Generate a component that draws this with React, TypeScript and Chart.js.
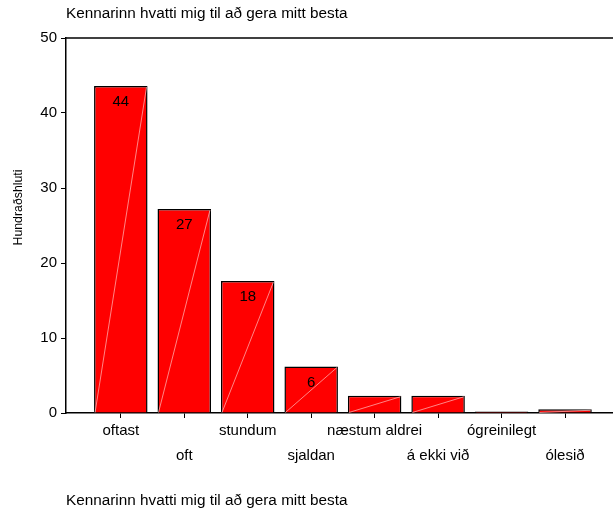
import { useEffect, useRef } from 'react';
import { Chart, registerables } from 'chart.js';

Chart.register(...registerables);

const TITLE = 'Kennarinn hvatti mig til að gera mitt besta';
const Y_TITLE = 'Hundraðshluti';
const categories = ['oftast', 'oft', 'stundum', 'sjaldan', 'næstum aldrei', 'á ekki við', 'ógreinilegt', 'ólesið'];
const percents = [43.6, 27.2, 17.6, 6.2, 2.3, 2.3, 0.2, 0.5];
const yTicks = [0, 10, 20, 30, 40, 50];
const LABEL_MIN = 5;

const FONT = '"Liberation Sans", Arial, Helvetica, sans-serif';

const decor = {
  id: 'decor',
  afterDatasetsDraw(chart: any) {
    const { ctx } = chart;
    const meta = chart.getDatasetMeta(0);
    ctx.save();
    meta.data.forEach((bar: any, i: number) => {
      const { x, y, base, width } = bar.getProps(['x', 'y', 'base', 'width'], true);
      if (base - y > 3) {
        ctx.strokeStyle = 'rgba(255,185,185,0.9)';
        ctx.lineWidth = 0.8;
        ctx.beginPath();
        ctx.moveTo(x - width / 2 + 1, base);
        ctx.lineTo(x + width / 2 - 1, y + 1);
        ctx.stroke();
      }
      const v = percents[i];
      if (v >= LABEL_MIN) {
        ctx.fillStyle = '#000';
        ctx.font = `15px ${FONT}`;
        ctx.textAlign = 'center';
        ctx.textBaseline = 'middle';
        ctx.fillText(String(Math.round(v)), x, y + 16);
      }
    });
    ctx.restore();
  },
  afterDraw(chart: any) {
    const { ctx, chartArea, width, height } = chart;
    ctx.save();
    // top frame line
    ctx.strokeStyle = '#000';
    ctx.lineWidth = 1.5;
    ctx.beginPath();
    ctx.moveTo(chartArea.left, chartArea.top);
    ctx.lineTo(width, chartArea.top);
    ctx.stroke();
    // titles
    ctx.fillStyle = '#000';
    ctx.font = `15.3px ${FONT}`;
    ctx.textAlign = 'left';
    ctx.textBaseline = 'alphabetic';
    ctx.fillText(TITLE, chartArea.left, 17.5);
    ctx.fillText(TITLE, chartArea.left, height - 5.5);
    // y title
    ctx.font = `12.3px ${FONT}`;
    ctx.translate(21.5, (chartArea.top + chartArea.bottom) / 2 - 18);
    ctx.rotate(-Math.PI / 2);
    ctx.textAlign = 'center';
    ctx.fillText(Y_TITLE, 0, 0);
    ctx.restore();
  },
};

export default function App() {
  const ref = useRef<HTMLCanvasElement>(null);
  useEffect(() => {
    document.body.style.margin = '0';
    Chart.defaults.font.family = FONT;
    Chart.defaults.color = '#000';
    const chart = new Chart(ref.current!, {
      type: 'bar',
      data: {
        datasets: [
          {
            data: percents.map((v, i) => ({ x: i, y: v })),
            backgroundColor: '#ff0000',
            borderColor: '#000',
            borderWidth: 1.5,
            categoryPercentage: 1,
            barPercentage: 0.843,
          },
        ],
      },
      options: {
        animation: false,
        responsive: false,
        layout: { padding: { top: 38, bottom: 37, left: 0, right: 0 } },
        plugins: { legend: { display: false }, tooltip: { enabled: false } },
        scales: {
          x: {
            type: 'linear',
            offset: false,
            min: -0.8635,
            max: 7.756,
            afterBuildTicks: (scale: any) => {
              scale.ticks = categories.map((_, i) => ({ value: i }));
            },
            afterFit: (scale: any) => {
              scale.height = 60;
            },
            ticks: {
              autoSkip: false,
              maxRotation: 0,
              padding: 0,
              font: { size: 15, lineHeight: 25 / 15 },
              color: '#000',
              callback: (v: any) => {
                const i = Math.round(Number(v));
                const t = categories[i] ?? '';
                return i % 2 === 0 ? [t] : ['', t];
              },
            },
            grid: { display: true, offset: false, drawOnChartArea: false, drawTicks: true, tickLength: 5, color: '#000', lineWidth: 1 },
            border: { display: true, color: '#000', width: 1.5 },
          },
          y: {
            min: yTicks[0],
            max: yTicks[yTicks.length - 1],
            afterBuildTicks: (scale: any) => {
              scale.ticks = yTicks.map((v) => ({ value: v }));
            },
            afterFit: (scale: any) => {
              scale.width = 66;
            },
            ticks: { padding: 4, font: { size: 15 }, color: '#000' },
            grid: { display: true, drawOnChartArea: false, drawTicks: true, tickLength: 5, color: '#000', lineWidth: 1 },
            border: { display: true, color: '#000', width: 1.5 },
          },
        },
      },
      plugins: [decor],
    } as any);
    return () => chart.destroy();
  }, []);
  return <canvas ref={ref} width={613} height={510} style={{ display: 'block', width: 613, height: 510 }} />;
}
